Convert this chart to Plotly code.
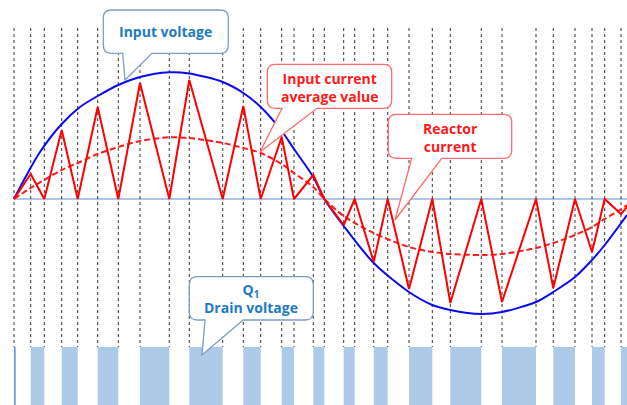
import plotly.graph_objects as go

# ---------------- data ----------------
# reactor current: switching instants (x) and current values at them
reactor_t = [14, 30.7, 44.3, 61.7, 77.7, 97.7, 118.3, 140, 169.3, 189.3, 222.7, 243.3,
             260.7, 281.7, 294, 313.3, 324.3, 343.7, 354.7, 373.7, 387.7, 409, 432.3,
             450.3, 481.3, 502, 536, 553.3, 575, 592, 604.7, 621, 634]
reactor_i = [0, 25, 0, 69, 0, 92, 0, 116, 0, 119, 0, 93,
             0, 62, 0, 24, 0, -26, 0, -63, 0, -90, 0,
             -104, 0, -103, 0, -89, 0, -53, 0, -15, 0]

# input voltage curve
volt_t = [14, 25, 40, 61.7, 80, 97.7, 118.3, 140, 169, 189.3, 222.7, 243.3, 260.7,
          281.7, 294, 313.3, 324.3, 343.7, 373.7, 409, 432.3, 450.3, 481.3, 502,
          536, 553.3, 575, 592, 604.7, 627]
volt_v = [0, 21, 47, 75, 92, 103, 114, 122, 126.7, 125.5, 117, 106, 92,
          68, 50, 22, 0, -27, -64, -93, -106, -111, -115, -113,
          -103, -93, -78, -61, -46, -16]

# input current average value curve
avg_t = [14, 30.7, 61.7, 80, 97.7, 118.3, 140, 169.3, 189.3, 222.7, 243.3, 260.7,
         281.7, 294, 313.3, 324.3, 343.7, 373.7, 409, 432.3, 450.3, 481.3, 502,
         536, 553.3, 575, 592, 604.7, 620, 627]
avg_v = [0, 11, 29, 37, 45, 52, 58, 61.7, 61, 56, 51, 46,
         35, 26, 12, 0, -17, -34, -48, -53, -55, -56, -55,
         -49, -44, -36, -28, -20, -11, -6]

# Q1 drain voltage: high intervals (start, end)
drain_on = [(14, 15.8), (30.7, 44.3), (61.7, 77.7), (97.7, 118.3), (140, 169.3),
            (189.3, 222.7), (243.3, 260.7), (281.7, 294), (313.3, 324.3),
            (343.7, 354.7), (373.7, 387.7), (409, 432.3), (450.3, 481.3),
            (502, 536), (553.3, 575), (592, 604.7), (621, 634)]
drain_low, drain_high = -148, -206

callouts = [
    {"text": "Input voltage", "color": "#1f7ac4", "border": "#7d9ec4"},
    {"text": "Input current<br>average value", "color": "#ff1a1a", "border": "#ff6a6a"},
    {"text": "Reactor<br>current", "color": "#ff1a1a", "border": "#ff6a6a"},
    {"text": "Q<sub>1</sub><br>Drain voltage", "color": "#1f7ac4", "border": "#7d9ec4"},
]

# ---------------- layout helpers ----------------
W, H = 627, 405
Y0 = 199  # pixel row of the zero line


def py(p):
    return Y0 - p


def callout_path(x0, y0, x1, y1, bx0, bx1, tx, ty, r=8):
    pts = [
        f"M {x0 + r},{py(y0)}", f"L {x1 - r},{py(y0)}", f"Q {x1},{py(y0)} {x1},{py(y0 + r)}",
        f"L {x1},{py(y1 - r)}", f"Q {x1},{py(y1)} {x1 - r},{py(y1)}",
        f"L {bx1},{py(y1)}", f"L {tx},{py(ty)}", f"L {bx0},{py(y1)}",
        f"L {x0 + r},{py(y1)}", f"Q {x0},{py(y1)} {x0},{py(y1 - r)}",
        f"L {x0},{py(y0 + r)}", f"Q {x0},{py(y0)} {x0 + r},{py(y0)}", "Z",
    ]
    return " ".join(pts)


geom = [
    dict(box=(103.3, 10, 228.3, 53.3), tail=(122.7, 152, 125, 80), text_y=31.5),
    dict(box=(267.3, 64.3, 391.7, 108.3), tail=(282, 317, 260, 152), text_y=87),
    dict(box=(388.3, 114.3, 511.7, 158.3), tail=(411.7, 441.7, 395, 220), text_y=137),
    dict(box=(189.3, 276.7, 313.3, 320), tail=(205, 243.3, 202, 355), text_y=298),
]

fig = go.Figure()

# zero line
fig.add_trace(go.Scatter(x=[14, W], y=[0, 0], mode="lines",
                         line=dict(color="#8fb4dc", width=1.5), hoverinfo="skip"))

# vertical dashed switching lines
vx, vy = [], []
for t in sorted(set(reactor_t)):
    if t <= W:
        vx += [t, t, None]
        vy += [py(28), drain_low, None]
fig.add_trace(go.Scatter(x=vx, y=vy, mode="lines",
                         line=dict(color="#333333", width=1, dash="3px,3px"), hoverinfo="skip"))

# drain voltage bars
for a, b in drain_on:
    fig.add_trace(go.Scatter(x=[a, b, b, a, a], y=[drain_low, drain_low, drain_high, drain_high, drain_low],
                             mode="lines", fill="toself", fillcolor="#adcbe8",
                             line=dict(width=0, color="#adcbe8"), hoverinfo="skip"))
a, b = drain_on[0]
fig.add_trace(go.Scatter(x=[a + 0.8, a + 0.8], y=[drain_low, drain_high], mode="lines",
                         line=dict(color="#5b90d0", width=1.2), hoverinfo="skip"))

# input voltage
fig.add_trace(go.Scatter(x=volt_t, y=volt_v, mode="lines", line_shape="spline",
                         line=dict(color="#0a0af0", width=2, smoothing=0.8), hoverinfo="skip"))
# input current average
fig.add_trace(go.Scatter(x=avg_t, y=avg_v, mode="lines", line_shape="spline",
                         line=dict(color="#ff1a1a", width=2, dash="6px,3px", smoothing=0.8),
                         hoverinfo="skip"))
# reactor current
fig.add_trace(go.Scatter(x=reactor_t, y=reactor_i, mode="lines",
                         line=dict(color="#ff0000", width=2), hoverinfo="skip"))

shapes, annotations = [], []
for c, g in zip(callouts, geom):
    x0, y0, x1, y1 = g["box"]
    bx0, bx1, tx, ty = g["tail"]
    shapes.append(dict(type="path", xref="x", yref="y", layer="above",
                       path=callout_path(x0, y0, x1, y1, bx0, bx1, tx, ty),
                       fillcolor="white", line=dict(color=c["border"], width=1.3)))
    annotations.append(dict(x=(x0 + x1) / 2, y=py(g["text_y"]), xref="x", yref="y",
                            text=f"<b>{c['text']}</b>", showarrow=False,
                            xanchor="center", yanchor="middle",
                            font=dict(family="Open Sans", size=14, color=c["color"])))

fig.update_layout(
    width=W, height=H, margin=dict(l=0, r=0, t=0, b=0),
    paper_bgcolor="white", plot_bgcolor="white", showlegend=False,
    xaxis=dict(range=[0, W], visible=False, fixedrange=True),
    yaxis=dict(range=[py(H), Y0], visible=False, fixedrange=True),
    shapes=shapes, annotations=annotations,
)

fig.write_html("out.html", config={"displayModeBar": False},
               post_script="document.body.style.margin='0';document.body.style.overflow='hidden';")
